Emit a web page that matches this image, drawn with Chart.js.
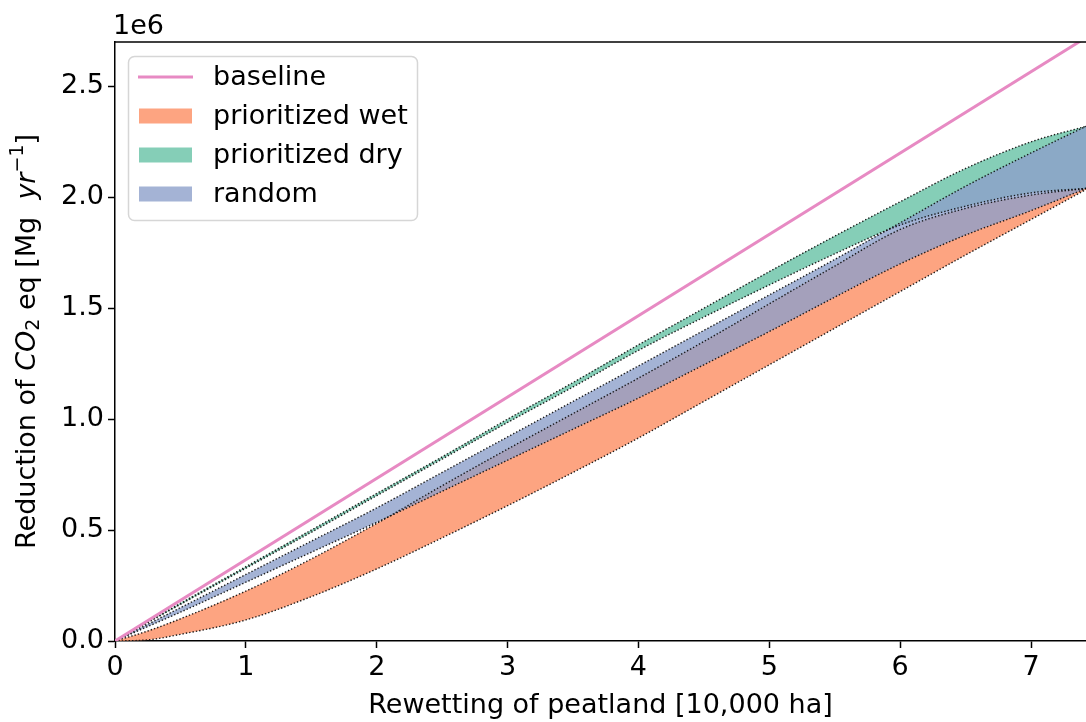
<!DOCTYPE html>
<html>
<head>
<meta charset="utf-8">
<script src="https://cdn.jsdelivr.net/npm/chart.js@4.4.1/dist/chart.umd.min.js"></script>
<style>
  html, body { margin: 0; padding: 0; background: #fff; }
  #wrap { width: 1086px; height: 722px; }
</style>
</head>
<body>
<div id="wrap"><canvas id="myChart" width="1086" height="722"></canvas></div>
<script>
// values are in millions (1e6) of Mg CO2 eq per year
const rewetting = [0, 0.25, 0.5, 1, 1.5, 2, 2.5, 3, 3.5, 4, 4.5, 5, 5.5, 6, 6.5, 7, 7.42];

const baselineX = [0, 7.42];
const baselineY = [0, 2.72];

const wetUpper = [0, 0.045, 0.10, 0.225, 0.37, 0.53, 0.70, 0.865, 1.025, 1.185, 1.35, 1.52, 1.69, 1.855, 1.95, 2.01, 2.04];
const wetLower = [0, 0.005, 0.03, 0.095, 0.20, 0.325, 0.465, 0.61, 0.76, 0.915, 1.08, 1.245, 1.41, 1.575, 1.74, 1.90, 2.035];

const dryUpper = [0, 0.085, 0.17, 0.335, 0.50, 0.665, 0.83, 1.0, 1.165, 1.335, 1.50, 1.665, 1.825, 1.98, 2.13, 2.25, 2.32];
const dryLower = [0, 0.083, 0.165, 0.328, 0.49, 0.655, 0.82, 0.985, 1.145, 1.31, 1.46, 1.605, 1.745, 1.875, 1.96, 2.02, 2.04];

const randomUpper = [0, 0.075, 0.15, 0.30, 0.45, 0.60, 0.76, 0.92, 1.08, 1.24, 1.40, 1.56, 1.72, 1.885, 2.05, 2.20, 2.32];
const randomLower = [0, 0.065, 0.13, 0.265, 0.40, 0.535, 0.675, 0.815, 0.955, 1.095, 1.245, 1.395, 1.55, 1.70, 1.83, 1.94, 2.04];

const yTicks = [0, 0.5, 1.0, 1.5, 2.0, 2.5];
const xTicks = [0, 1, 2, 3, 4, 5, 6, 7];

const legendLabels = ['baseline', 'prioritized wet', 'prioritized dry', 'random'];

const SCALE = 1e6;
const FONT = '"DejaVu Sans", sans-serif';
const FS = 27;

const baseColor = '#e78ac3';
const wetColor = 'rgba(252,141,98,0.8)';
const dryColor = 'rgba(102,194,165,0.8)';
const randColor = 'rgba(141,160,203,0.8)';

function pts(xs, ys) {
  return ys.map((v, i) => ({ x: xs[i], y: v * SCALE }));
}

// dotted edge of a band
function edge(label, ys, color, order, fill) {
  return {
    label: label,
    data: pts(rewetting, ys),
    borderColor: 'rgba(10,10,10,0.9)',
    borderWidth: 1.4,
    borderDash: [1.4, 2],
    backgroundColor: color,
    fill: fill,
    pointRadius: 0,
    cubicInterpolationMode: 'monotone',
    order: order
  };
}

// text on the left: Reduction of CO2 eq [Mg yr-1], with mathtext look
const yTitleParts = [
  { t: 'Reduction of ', f: FS + 'px ' + FONT, dy: 0 },
  { t: 'CO', f: 'italic ' + FS + 'px ' + FONT, dy: 0 },
  { t: '2', f: '19px ' + FONT, dy: 6 },
  { t: ' eq [Mg  ', f: FS + 'px ' + FONT, dy: 0 },
  { t: 'yr', f: 'italic ' + FS + 'px ' + FONT, dy: 0 },
  { t: '\u22121', f: '19px ' + FONT, dy: -10 },
  { t: ']', f: FS + 'px ' + FONT, dy: 0 }
];

const decorPlugin = {
  id: 'decor',
  afterDraw(chart) {
    const { ctx, chartArea } = chart;
    const { left, right, top, bottom } = chartArea;
    ctx.save();

    // top spine
    ctx.strokeStyle = '#000';
    ctx.lineWidth = 1.5;
    ctx.beginPath();
    ctx.moveTo(left - 0.75, top);
    ctx.lineTo(right, top);
    ctx.stroke();

    // offset text
    ctx.fillStyle = '#000';
    ctx.font = FS + 'px ' + FONT;
    ctx.textAlign = 'left';
    ctx.textBaseline = 'alphabetic';
    ctx.fillText('1e6', left - 2, top - 8);

    // y axis title
    let total = 0;
    yTitleParts.forEach(p => { ctx.font = p.f; total += ctx.measureText(p.t).width; });
    ctx.translate(28, (top + bottom) / 2);
    ctx.rotate(-Math.PI / 2);
    ctx.textBaseline = 'middle';
    let cx = -total / 2;
    yTitleParts.forEach(p => {
      ctx.font = p.f;
      ctx.fillText(p.t, cx, p.dy);
      cx += ctx.measureText(p.t).width;
    });
    ctx.restore();

    // legend
    ctx.save();
    const bx = 128.5, by = 56.5, bw = 289, bh = 164;
    ctx.beginPath();
    ctx.roundRect(bx, by, bw, bh, 6);
    ctx.fillStyle = 'rgba(255,255,255,0.8)';
    ctx.fill();
    ctx.strokeStyle = '#d6d6d6';
    ctx.lineWidth = 1.5;
    ctx.stroke();

    const swatches = [baseColor, wetColor, dryColor, randColor];
    legendLabels.forEach((lab, i) => {
      const cy = 77 + i * 39;
      if (i === 0) {
        ctx.strokeStyle = baseColor;
        ctx.lineWidth = 3;
        ctx.beginPath();
        ctx.moveTo(138, cy);
        ctx.lineTo(193, cy);
        ctx.stroke();
      } else {
        ctx.fillStyle = swatches[i];
        ctx.fillRect(139, cy - 7.5, 53, 15);
      }
      ctx.fillStyle = '#000';
      ctx.font = FS + 'px ' + FONT;
      ctx.textAlign = 'left';
      ctx.textBaseline = 'middle';
      ctx.fillText(lab, 213, cy + 1);
    });
    ctx.restore();
  }
};

const ctx = document.getElementById('myChart').getContext('2d');

const myChart = new Chart(ctx, {
  type: 'line',
  data: {
    datasets: [
      {
        label: legendLabels[0],
        data: pts(baselineX, baselineY),
        borderColor: baseColor,
        borderWidth: 3,
        pointRadius: 0,
        fill: false,
        order: 0
      },
      edge(legendLabels[1], wetUpper, wetColor, 3, '+1'),
      edge('wet lower', wetLower, wetColor, 3, false),
      edge(legendLabels[2], dryUpper, dryColor, 2, '+1'),
      edge('dry lower', dryLower, dryColor, 2, false),
      edge(legendLabels[3], randomUpper, randColor, 1, '+1'),
      edge('random lower', randomLower, randColor, 1, false)
    ]
  },
  options: {
    responsive: false,
    animation: false,
    layout: { padding: { top: 42, right: 0, left: 0, bottom: 0 } },
    plugins: {
      legend: { display: false },
      tooltip: { enabled: false },
      filler: { drawTime: 'beforeDatasetsDraw' }
    },
    scales: {
      x: {
        type: 'linear',
        min: 0,
        max: 7.42,
        afterBuildTicks: s => { s.ticks = xTicks.map(v => ({ value: v })); },
        afterFit: s => { s.height = 81; },
        ticks: {
          color: '#000',
          font: { family: FONT, size: FS },
          padding: 4,
          maxRotation: 0
        },
        grid: {
          drawOnChartArea: false,
          drawTicks: true,
          tickLength: 7,
          tickWidth: 1.5,
          tickColor: '#000'
        },
        border: { color: '#000', width: 1.5 },
        title: {
          display: true,
          text: 'Rewetting of peatland [10,000 ha]',
          color: '#000',
          font: { family: FONT, size: FS },
          padding: { top: 0, bottom: 0 }
        }
      },
      y: {
        min: 0,
        max: 2.7 * SCALE,
        afterBuildTicks: s => { s.ticks = yTicks.map(v => ({ value: v * SCALE })); },
        afterFit: s => { s.width = 115; },
        ticks: {
          color: '#000',
          font: { family: FONT, size: FS },
          padding: 4,
          callback: v => (v / SCALE).toFixed(1)
        },
        grid: {
          drawOnChartArea: false,
          drawTicks: true,
          tickLength: 7,
          tickWidth: 1.5,
          tickColor: '#000'
        },
        border: { color: '#000', width: 1.5 }
      }
    }
  },
  plugins: [decorPlugin]
});
</script>
</body>
</html>
